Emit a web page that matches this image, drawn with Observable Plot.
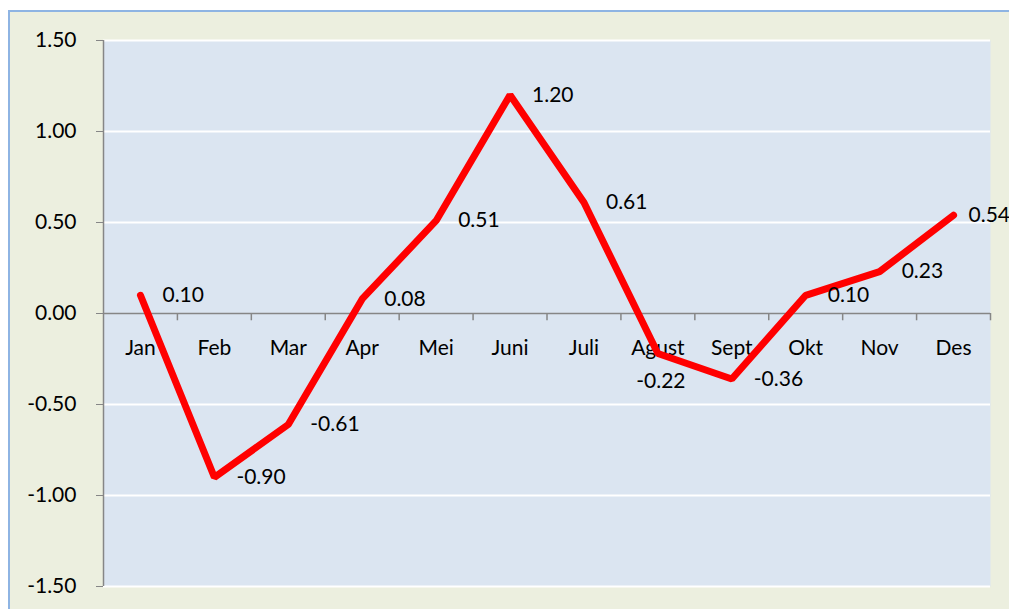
<!DOCTYPE html>
<html>
<head>
<meta charset="utf-8">
<script src="https://cdn.jsdelivr.net/npm/d3@7"></script>
<script src="https://cdn.jsdelivr.net/npm/@observablehq/plot@0.6"></script>
<style>
  html, body { margin: 0; padding: 0; background: #ffffff; }
  #wrap {
    position: absolute; left: 8px; top: 10px;
    width: 1001px; height: 599px;
    background: #ECEFDF;
    border-top: 2px solid #8EB4E3;
    border-left: 2px solid #8EB4E3;
    overflow: hidden;
  }
  #wrap svg { display: block; }
</style>
</head>
<body>
<div id="wrap"></div>
<script>
const months = ["Jan", "Feb", "Mar", "Apr", "Mei", "Juni", "Juli", "Agust", "Sept", "Okt", "Nov", "Des"];
const values = [0.10, -0.90, -0.61, 0.08, 0.51, 1.20, 0.61, -0.22, -0.36, 0.10, 0.23, 0.54];
const yTicks = [-1.5, -1.0, -0.5, 0.0, 0.5, 1.0, 1.5];
const labelPlacement = ["right", "right", "right", "right", "right", "right", "right", "below", "right", "right", "right", "near"];

const data = months.map((m, i) => ({i, month: m, value: values[i], place: labelPlacement[i]}));
const bounds = d3.range(months.length + 1).map(k => k - 0.5);
const font = "Lato, 'Open Sans', sans-serif";

const chart = Plot.plot({
  width: 999,
  height: 597,
  marginLeft: 93,
  marginRight: 19,
  marginTop: 28,
  marginBottom: 23,
  style: {fontFamily: font, fontSize: "21px", color: "#000", background: "transparent"},
  x: {domain: [-0.5, 11.5], axis: null},
  y: {domain: [-1.5, 1.5]},
  marks: [
    Plot.frame({fill: "#DBE5F1", stroke: null}),
    Plot.ruleY(yTicks.filter(d => d !== 0), {stroke: "#ffffff", strokeWidth: 2}),
    Plot.ruleY([0], {stroke: "#868686", strokeWidth: 1.5}),
    Plot.ruleX(bounds.slice(1), {x: d => d, y1: 0, y2: -0.04, stroke: "#868686", strokeWidth: 1.5}),
    Plot.ruleX([-0.5], {stroke: "#868686", strokeWidth: 1.5}),
    Plot.axisY({
      ticks: yTicks,
      tickFormat: d => d.toFixed(2),
      tickSize: 7,
      tickPadding: 20,
      stroke: "#868686",
      fontSize: 21,
      fill: "#000",
      label: null
    }),
    Plot.text(data, {x: "i", y: 0, text: "month", dy: 35, fill: "#000", fontSize: 21}),
    Plot.line(data, {x: "i", y: "value", stroke: "#FF0000", strokeWidth: 7, strokeLinejoin: "miter", strokeLinecap: "round"}),
    Plot.text(data.filter(d => d.place === "right"), {
      x: "i", y: "value", text: d => d.value.toFixed(2),
      textAnchor: "start", dx: 22, fill: "#000", fontSize: 21
    }),
    Plot.text(data.filter(d => d.place === "near"), {
      x: "i", y: "value", text: d => d.value.toFixed(2),
      textAnchor: "start", dx: 15, fill: "#000", fontSize: 21
    }),
    Plot.text(data.filter(d => d.place === "below"), {
      x: "i", y: "value", text: d => d.value.toFixed(2),
      textAnchor: "middle", dy: 28, dx: 3, fill: "#000", fontSize: 21
    })
  ]
});
document.getElementById("wrap").appendChild(chart);
</script>
</body>
</html>
